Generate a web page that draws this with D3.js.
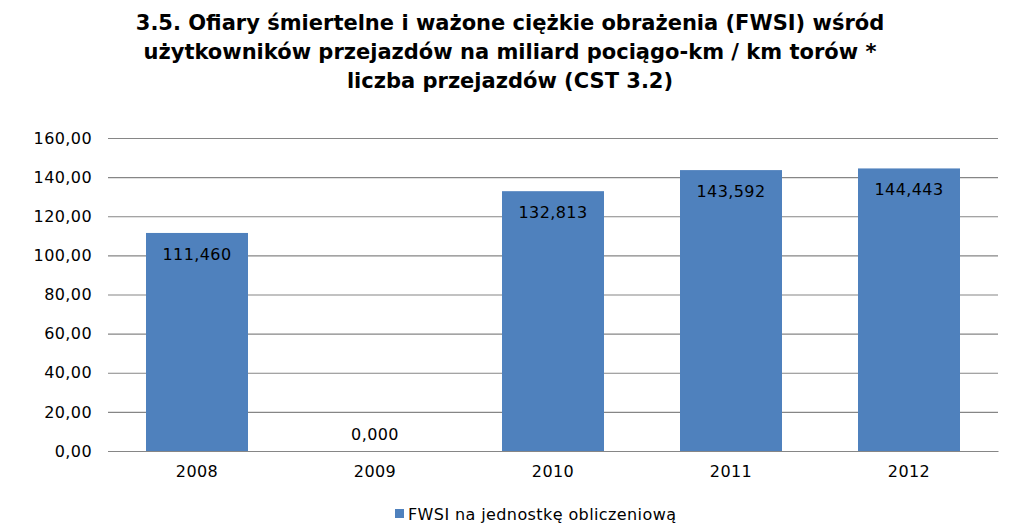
<!DOCTYPE html>
<html><head><meta charset="utf-8">
<script src="https://cdn.jsdelivr.net/npm/d3@7"></script>
<style>body{margin:0;background:#fff}</style>
</head><body>
<svg id="c" width="1010" height="531"></svg>
<script>
const titleLines = ["3.5. Ofiary śmiertelne i ważone ciężkie obrażenia (FWSI) wśród",
  "użytkowników przejazdów na miliard pociągo-km / km torów *",
  "liczba przejazdów (CST 3.2)"];
const categories = ["2008","2009","2010","2011","2012"];
const values = [111.460, 0.000, 132.813, 143.592, 144.443];
const yTicks = [0,20,40,60,80,100,120,140,160];
const seriesName = "FWSI na jednostkę obliczeniową";

const svg = d3.select("#c");
const fmt2 = v => d3.format(".2f")(v).replace(".", ",");
const fmt3 = v => d3.format(",.3f")(v).replace(".", ",");
const font = "'DejaVu Sans', Verdana, sans-serif";
const fs = 16, ls = "0.4px";
const m = {l:108, r:998, t:138, b:451};
const x = d3.scaleBand().domain(categories).range([m.l, m.r]).paddingInner(0.427).paddingOuter(0.2135);
const y = d3.scaleLinear().domain([0,160]).range([m.b, m.t]);

// title
svg.append("g").selectAll("text").data(titleLines).join("text")
  .attr("x", 510).attr("y", (d,i)=>30+i*29)
  .attr("text-anchor","middle")
  .attr("font-family","'DejaVu Sans', sans-serif")
  .attr("font-weight","bold").attr("font-size",21).attr("fill","#000").text(d=>d);

// grid
const yAxis = d3.axisLeft(y).tickValues(yTicks).tickSize(-(m.r-m.l)).tickFormat(fmt2).tickPadding(16);
const gy = svg.append("g").attr("transform",`translate(${m.l},0)`).call(yAxis);
gy.select(".domain").remove();
gy.selectAll(".tick line").attr("stroke","#868686").attr("stroke-width",1.2);
gy.selectAll(".tick text").attr("font-family",font).attr("font-size",fs).attr("letter-spacing",ls).attr("fill","#000");

// bars
svg.append("g").selectAll("rect").data(values).join("rect")
  .attr("x",(d,i)=>x(categories[i])).attr("width",x.bandwidth())
  .attr("y",d=>y(d)).attr("height",d=>y(0)-y(d)).attr("fill","#4F81BD");

// x axis
const xAxis = d3.axisBottom(x).tickSize(0).tickPadding(15);
const gx = svg.append("g").attr("transform",`translate(0,${m.b})`).call(xAxis);
gx.select(".domain").attr("stroke","#868686").attr("stroke-width",1.2);
gx.selectAll(".tick text").attr("font-family",font).attr("font-size",fs).attr("letter-spacing",ls).attr("fill","#000");

// labels
svg.append("g").selectAll("text").data(values).join("text")
  .attr("x",(d,i)=>x(categories[i])+x.bandwidth()/2)
  .attr("y",d=> d>0 ? y(d)+27 : y(d)-11)
  .attr("text-anchor","middle").attr("font-family",font).attr("font-size",fs).attr("letter-spacing",ls).attr("fill","#000")
  .text(d=>fmt3(d));

// legend
const lg = svg.append("g");
lg.append("rect").attr("x",395).attr("y",509).attr("width",9).attr("height",9).attr("fill","#4F81BD");
lg.append("text").attr("x",408).attr("y",520).attr("font-family",font).attr("font-size",fs).attr("letter-spacing",ls).attr("fill","#000").text(seriesName);
</script>
</body></html>
